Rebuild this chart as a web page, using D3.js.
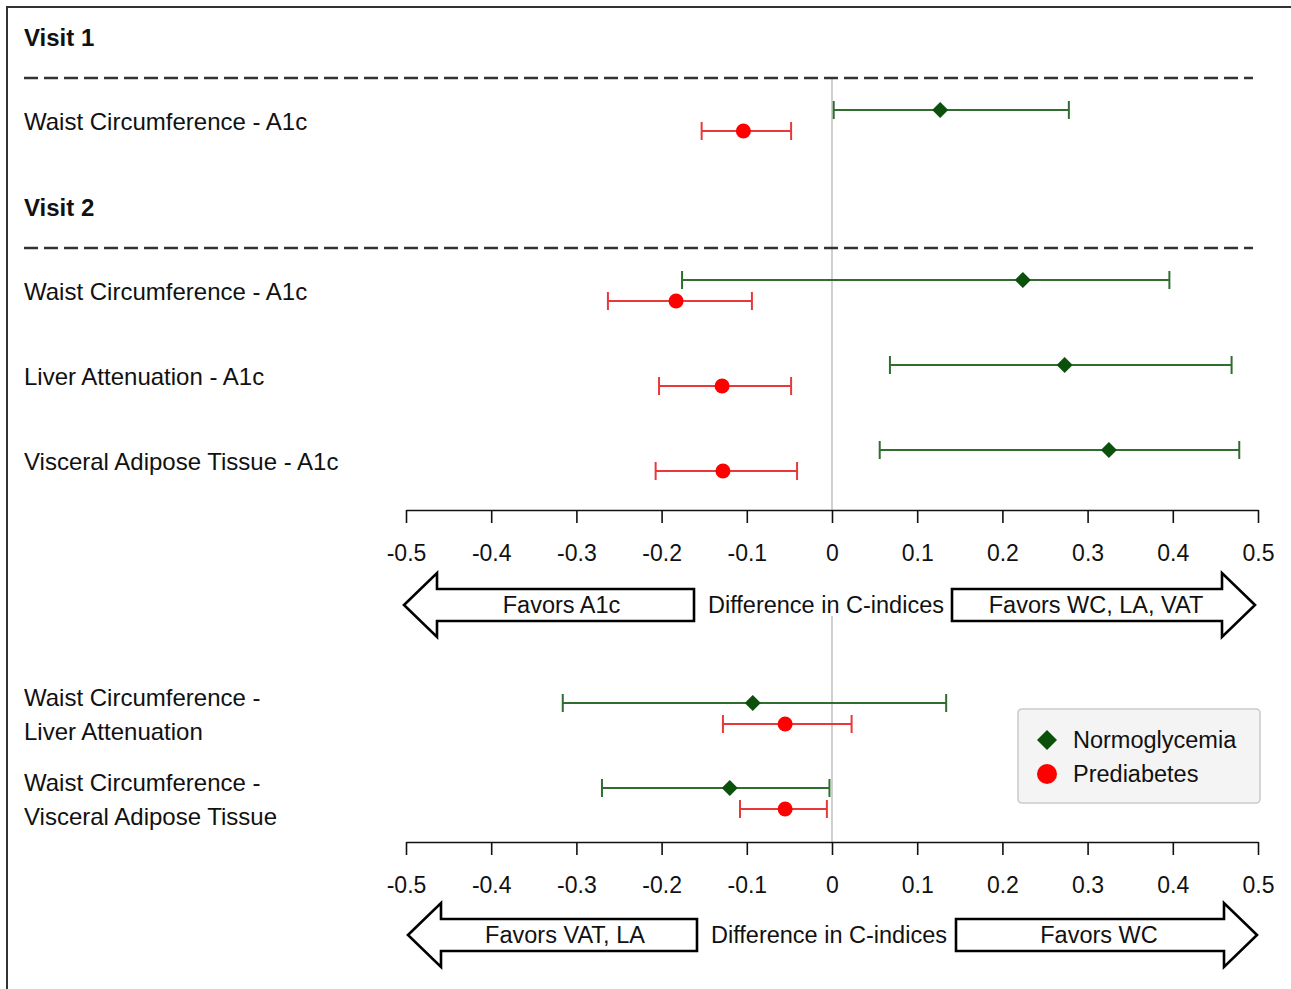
<!DOCTYPE html>
<html>
<head>
<meta charset="utf-8">
<script src="https://cdn.jsdelivr.net/npm/d3@7"></script>
<style>
  body { margin: 0; background: #fff; }
  svg { display: block; }
  text { font-family: "Liberation Sans", Arial, sans-serif; fill: #111; }
</style>
</head>
<body>
<svg id="chart" width="1291" height="989"></svg>
<script>
// ---- data ----
const topLabels = ['Waist Circumference - A1c', 'Waist Circumference - A1c', 'Liver Attenuation - A1c', 'Visceral Adipose Tissue - A1c'];
const topSlots = [0, 2, 3, 4];
const topNormPoint = [0.127, 0.224, 0.273, 0.325];
const topNormLow = [0.002, -0.176, 0.068, 0.056];
const topNormHigh = [0.278, 0.396, 0.469, 0.478];
const topPrePoint = [-0.104, -0.183, -0.129, -0.128];
const topPreLow = [-0.153, -0.263, -0.203, -0.207];
const topPreHigh = [-0.048, -0.094, -0.048, -0.041];

const botLabels = [['Waist Circumference -', 'Liver Attenuation'], ['Waist Circumference -', 'Visceral Adipose Tissue']];
const botNormPoint = [-0.093, -0.120];
const botNormLow = [-0.316, -0.270];
const botNormHigh = [0.134, -0.003];
const botPrePoint = [-0.055, -0.055];
const botPreLow = [-0.128, -0.108];
const botPreHigh = [0.023, -0.006];

const tickValues = [-0.5, -0.4, -0.3, -0.2, -0.1, 0, 0.1, 0.2, 0.3, 0.4, 0.5];
const headers = [{ name: 'Visit 1', slot: -1 }, { name: 'Visit 2', slot: 1 }];
const dividerSlots = [-0.5, 1.5];

const GREEN_LINE = '#2f6e2f', GREEN_MARK = '#0b500b';
const RED_LINE = '#e8383a', RED_MARK = '#ff0000';
const FONT = 24;

const svg = d3.select('#chart');

// frame
svg.append('path').attr('d', 'M7,989V7H1291').attr('fill', 'none').attr('stroke', '#333').attr('stroke-width', 2);

const x = d3.scaleLinear().domain([-0.5, 0.5]).range([406, 1258]);
const yTop = d3.scaleLinear().domain([-1, 4]).range([35.5, 460.5]);
const yBot = d3.scaleLinear().domain([0, 1]).range([713.5, 798.5]);

// plain hyphen for negatives, like the original
const fmt = d => d === 0 ? '0' : d.toFixed(1);

function drawAxis(yPos) {
  const g = svg.append('g').attr('transform', `translate(0,${yPos})`)
    .call(d3.axisBottom(x).tickValues(tickValues).tickSize(13).tickSizeOuter(0).tickPadding(22).tickFormat(fmt));
  g.select('.domain').attr('stroke', '#111').attr('stroke-width', 1.6);
  g.selectAll('.tick line').attr('stroke', '#111').attr('stroke-width', 1.6);
  g.selectAll('.tick text').attr('font-size', 23).attr('font-family', '"Liberation Sans", Arial, sans-serif').attr('fill', '#111');
}

function arrow(x0, x1, yc, dir) {
  // dir -1 pointing left, 1 pointing right; x0 = tip, x1 = tail
  const headLen = 33, bodyH = 16, headH = 32;
  const hb = x0 - dir * headLen;
  const pts = [[x0, yc], [hb, yc - headH], [hb, yc - bodyH], [x1, yc - bodyH], [x1, yc + bodyH], [hb, yc + bodyH], [hb, yc + headH]];
  svg.append('path').attr('d', d3.line()(pts) + 'Z')
    .attr('fill', '#fff').attr('stroke', '#000').attr('stroke-width', 2.6).attr('stroke-linejoin', 'miter');
}

function drawArrows(yc, leftText, rightText, leftTip, leftTail, rightTail, rightTip, midX) {
  arrow(leftTip, leftTail, yc, -1);
  arrow(rightTip, rightTail, yc, 1);
  const t = [
    { s: leftText, x: (leftTip + 33 + leftTail) / 2 - 4 },
    { s: 'Difference in C-indices', x: midX },
    { s: rightText, x: (rightTip - 33 + rightTail) / 2 + 9 }
  ];
  svg.selectAll(null).data(t).enter().append('text')
    .attr('x', d => d.x).attr('y', yc + 8).attr('text-anchor', 'middle').attr('font-size', 23.5).text(d => d.s);
}

function diamond(cx, cy, r) {
  return `M${cx},${cy - r}L${cx + r},${cy}L${cx},${cy + r}L${cx - r},${cy}Z`;
}

function drawSeries(yScale, slots, low, high, point, offset, lineColor, markColor, kind) {
  const rows = slots.map((s, i) => ({ y: yScale(s) + offset, lo: low[i], hi: high[i], p: point[i] }));
  const g = svg.append('g');
  g.selectAll('.ci').data(rows).enter().append('line')
    .attr('x1', d => x(d.lo)).attr('x2', d => x(d.hi)).attr('y1', d => d.y).attr('y2', d => d.y)
    .attr('stroke', lineColor).attr('stroke-width', 2);
  ['lo', 'hi'].forEach(k => {
    g.selectAll('.cap-' + k).data(rows).enter().append('line')
      .attr('x1', d => x(d[k])).attr('x2', d => x(d[k])).attr('y1', d => d.y - 9).attr('y2', d => d.y + 9)
      .attr('stroke', lineColor).attr('stroke-width', 2);
  });
  if (kind === 'diamond') {
    g.selectAll('.mk').data(rows).enter().append('path')
      .attr('d', d => diamond(x(d.p), d.y, 8)).attr('fill', markColor);
  } else {
    g.selectAll('.mk').data(rows).enter().append('circle')
      .attr('cx', d => x(d.p)).attr('cy', d => d.y).attr('r', 7.5).attr('fill', markColor);
  }
}

// ---- top panel ----
svg.append('line').attr('x1', x(0)).attr('x2', x(0)).attr('y1', yTop(-0.5)).attr('y2', 510)
  .attr('stroke', '#c4c4c4').attr('stroke-width', 1.6);
svg.append('line').attr('x1', x(0)).attr('x2', x(0)).attr('y1', 616).attr('y2', 842)
  .attr('stroke', '#c4c4c4').attr('stroke-width', 1.6);

svg.selectAll('.divider').data(dividerSlots).enter().append('line')
  .attr('x1', 24).attr('x2', 1253).attr('y1', d => yTop(d)).attr('y2', d => yTop(d))
  .attr('stroke', '#333').attr('stroke-width', 2.4).attr('stroke-dasharray', '14,6');

svg.selectAll('.hdr').data(headers).enter().append('text')
  .attr('x', 24).attr('y', d => yTop(d.slot) + 10.5).attr('font-size', 24).attr('font-weight', 'bold').text(d => d.name);

svg.selectAll('.rowlab').data(topLabels).enter().append('text')
  .attr('x', 24).attr('y', (d, i) => yTop(topSlots[i]) + 9.5).attr('font-size', FONT).text(d => d);

drawSeries(yTop, topSlots, topNormLow, topNormHigh, topNormPoint, -10.5, GREEN_LINE, GREEN_MARK, 'diamond');
drawSeries(yTop, topSlots, topPreLow, topPreHigh, topPrePoint, 10.5, RED_LINE, RED_MARK, 'circle');

drawAxis(510);
drawArrows(605, 'Favors A1c', 'Favors WC, LA, VAT', 404, 694, 952, 1255, 826);

// ---- bottom panel ----
const botSlots = [0, 1];
botLabels.forEach((lines, i) => {
  svg.append('text').attr('x', 24).attr('y', yBot(i) - 7.5).attr('font-size', FONT).text(lines[0]);
  svg.append('text').attr('x', 24).attr('y', yBot(i) + 26.5).attr('font-size', FONT).text(lines[1]);
});

drawSeries(yBot, botSlots, botNormLow, botNormHigh, botNormPoint, -10.5, GREEN_LINE, GREEN_MARK, 'diamond');
drawSeries(yBot, botSlots, botPreLow, botPreHigh, botPrePoint, 10.5, RED_LINE, RED_MARK, 'circle');

drawAxis(842);
drawArrows(935, 'Favors VAT, LA', 'Favors WC', 408, 697, 956, 1257, 829);

// ---- legend ----
const legendItems = [{ name: 'Normoglycemia', kind: 'diamond', color: GREEN_MARK }, { name: 'Prediabetes', kind: 'circle', color: RED_MARK }];
const lg = svg.append('g').attr('transform', 'translate(1018,709)');
lg.append('rect').attr('width', 242).attr('height', 94).attr('rx', 4)
  .attr('fill', '#f4f4f4').attr('stroke', '#cccccc').attr('stroke-width', 1.6);
legendItems.forEach((d, i) => {
  const cy = 31 + i * 34;
  if (d.kind === 'diamond') lg.append('path').attr('d', diamond(29, cy, 10)).attr('fill', d.color);
  else lg.append('circle').attr('cx', 29).attr('cy', cy).attr('r', 10).attr('fill', d.color);
  lg.append('text').attr('x', 55).attr('y', cy + 8).attr('font-size', 23.5).text(d.name);
});
</script>
</body>
</html>
